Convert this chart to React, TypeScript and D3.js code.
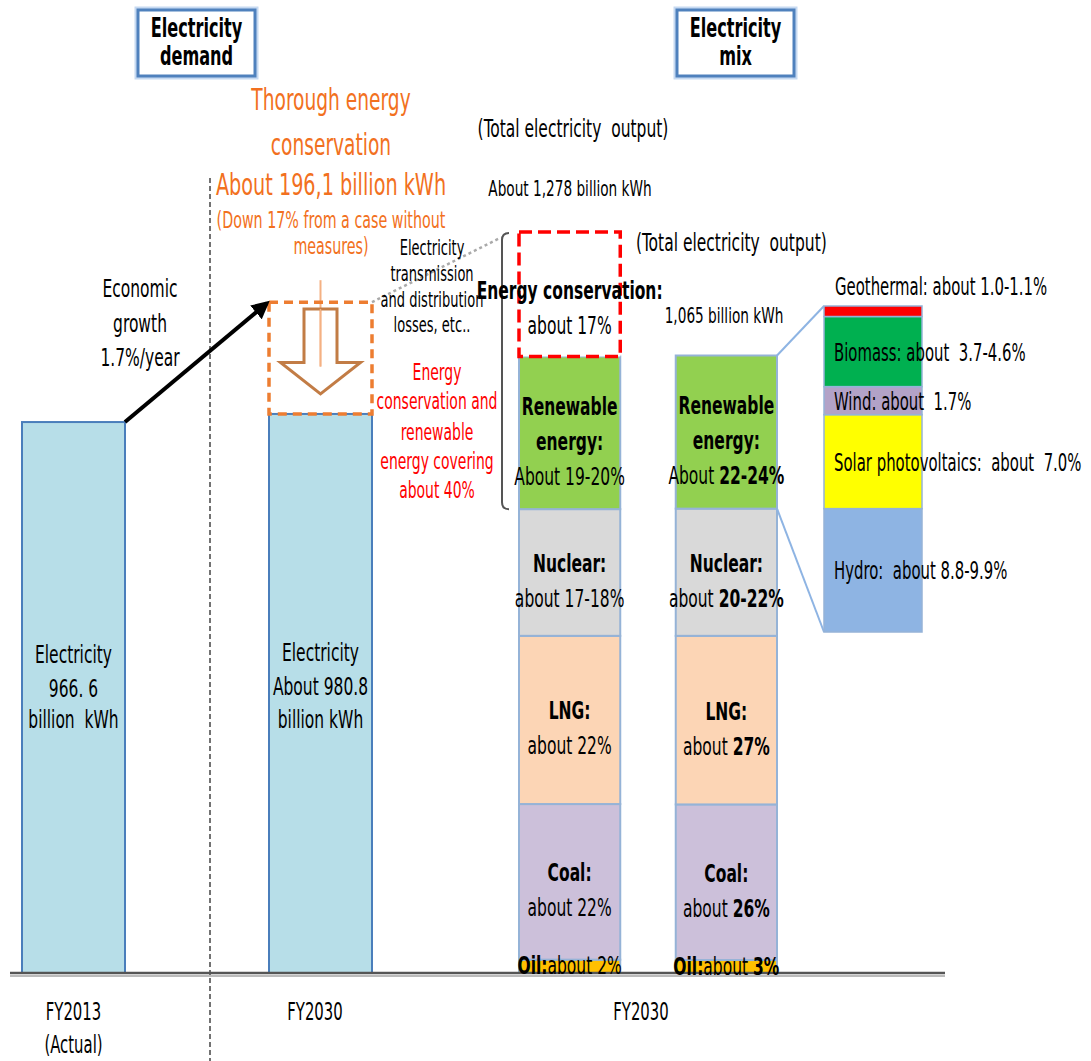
import React from "react";
import * as d3 from "d3";

const W = 1091;
const H = 1061;
const FONT = "'Liberation Sans Narrow', 'DejaVu Sans Condensed', 'Arial Narrow', sans-serif";
const SX = 0.69;

// ---------- data ----------
const demandCategories = ["FY2013", "FY2030"];
const demandValues = [966.6, 980.8]; // billion kWh
const conservationSaving = 196.1; // billion kWh
const totalOutputs = [1278, 1065]; // billion kWh
const mixCases = ["withConservation", "mix"];
const mixSources = ["Oil", "Coal", "LNG", "Nuclear", "Renewable energy", "Energy conservation"];
const mixShareA = [1.8, 21.0, 22.7, 17.1, 20.6, 16.8]; // % of 1,278
const mixShareB = [2.1, 25.2, 27.3, 20.6, 24.8]; // % of 1,065
const sourceColors = ["#ffc000", "#ccc0da", "#fcd5b5", "#d9d9d9", "#92d050", "#ffffff"];
const renewableSources = ["Hydro", "Solar photovoltaics", "Wind", "Biomass", "Geothermal"];
const renewableShares = [8.8, 6.7, 2.0, 5.0, 0.75]; // % of 1,065
const renewableColors = ["#8eb4e3", "#ffff00", "#b3a2c7", "#00b050", "#ff0000"];
const renewableLabels = [
  "Hydro:  about 8.8-9.9%",
  "Solar photovoltaics:  about  7.0%",
  "Wind: about  1.7%",
  "Biomass: about  3.7-4.6%",
  "Geothermal: about 1.0-1.1%",
];
type Run = [string, boolean];
const mixLabelsA: Run[][][] = [
  [[["Oil:", true], ["about 2%", false]]],
  [[["Coal:", true]], [["about 22%", false]]],
  [[["LNG:", true]], [["about 22%", false]]],
  [[["Nuclear:", true]], [["about 17-18%", false]]],
  [[["Renewable", true]], [["energy:", true]], [["About 19-20%", false]]],
  [[["Energy conservation:", true]], [["about 17%", false]]],
];
const mixLabelsB: Run[][][] = [
  [[["Oil:", true], ["about ", false], ["3%", true]]],
  [[["Coal:", true]], [["about ", false], ["26%", true]]],
  [[["LNG:", true]], [["about ", false], ["27%", true]]],
  [[["Nuclear:", true]], [["about ", false], ["20-22%", true]]],
  [[["Renewable", true]], [["energy:", true]], [["About ", false], ["22-24%", true]]],
];

// ---------- helpers ----------
function T(props: {
  x: number; y: number; size?: number; anchor?: string; fill?: string; weight?: any; children: any;
}) {
  const { x, y, size = 23, anchor = "middle", fill = "#000", weight = "normal", children } = props;
  return (
    <text
      transform={`translate(${x},${y}) scale(${SX},1)`}
      fontSize={size}
      textAnchor={anchor as any}
      fill={fill}
      fontWeight={weight}
      fontFamily={FONT}
      style={{ whiteSpace: "pre" }}
    >
      {children}
    </text>
  );
}

function Line({ runs, x, y, size = 24 }: { runs: Run[]; x: number; y: number; size?: number }) {
  return (
    <T x={x} y={y} size={size}>
      {runs.map((r, i) => (
        <tspan key={i} fontWeight={r[1] ? "bold" : "normal"}>{r[0]}</tspan>
      ))}
    </T>
  );
}

function HeaderBox({ x, y, w, h, lines }: { x: number; y: number; w: number; h: number; lines: string[] }) {
  return (
    <g>
      <rect x={x} y={y} width={w} height={h} fill="#fff" stroke="#c6d9f1" strokeWidth={7} />
      <rect x={x} y={y} width={w} height={h} fill="#fff" stroke="#4f81bd" strokeWidth={3} />
      {lines.map((l, i) => (
        <T key={i} x={x + w / 2} y={y + 27 + i * 28} size={26} weight="bold">{l}</T>
      ))}
    </g>
  );
}

export default function App() {
  const baseY = 973;

  // scales
  const xDemand = d3.scaleBand<string>().domain(demandCategories).range([22, 372]).paddingInner(0.583);
  const yDemand = d3.scaleLinear().domain([0, d3.mean(demandValues) as number]).range([baseY, 418]);

  const xMix = d3.scaleBand<string>().domain(mixCases).range([519, 777]).paddingInner(0.354);
  const yMix = d3.scaleLinear().domain([0, totalOutputs[0]]).range([baseY, 232]);

  const xR0 = 824;
  const xR1 = 922;
  const rTotal = d3.sum(renewableShares);
  const yR = d3.scaleLinear().domain([0, rTotal]).range([632, 306]);

  // stacks in billion kWh
  const stackOf = (shares: number[], total: number) => {
    const vals = shares.map((s) => (s / 100) * total);
    const ends = d3.cumsum(vals);
    return vals.map((v, i) => ({ y0: ends[i] - v, y1: ends[i] }));
  };
  const segA = stackOf(mixShareA, totalOutputs[0]);
  const segB = stackOf(mixShareB, totalOutputs[1]);

  const rEnds = d3.cumsum(renewableShares);
  const rSegs = renewableShares.map((v, i) => ({ y0: rEnds[i] - v, y1: rEnds[i] }));

  // demand bars
  const bw = xDemand.bandwidth();
  const bar1x = xDemand(demandCategories[0]) as number;
  const bar2x = xDemand(demandCategories[1]) as number;
  const boxTop = yDemand(demandValues[1] + conservationSaving);
  const boxBot = yDemand(demandValues[1]);
  const boxH = boxBot - boxTop;
  const boxCx = bar2x + bw / 2;

  const mbw = xMix.bandwidth();
  const xA = xMix(mixCases[0]) as number;
  const xB = xMix(mixCases[1]) as number;

  const renderRects = (segs: { y0: number; y1: number }[], x: number) =>
    segs.map((s, i) => {
      const top = yMix(s.y1);
      const bot = yMix(s.y0);
      const isCons = mixSources[i] === "Energy conservation";
      return isCons ? (
        <rect key={i} x={x} y={top} width={mbw} height={bot - top} fill="#fff" stroke="#ff0000"
          strokeWidth={3.5} strokeDasharray="13,6" />
      ) : (
        <rect key={i} x={x} y={top} width={mbw} height={bot - top} fill={sourceColors[i]}
          stroke="#95b3d7" strokeWidth={2} />
      );
    });

  const renderLabels = (segs: { y0: number; y1: number }[], x: number, labels: Run[][][]) =>
    segs.map((s, i) => {
      const top = yMix(s.y1);
      const bot = yMix(s.y0);
      const mid = (top + bot) / 2;
      const lines = labels[i];
      const n = lines.length;
      const isCons = mixSources[i] === "Energy conservation";
      return (
        <g key={i}>
          {lines.map((runs, j) => {
            const y = n === 1 ? mid + 8 : mid + 35 * (j - (n - 1) / 2) + 17 + (isCons ? 5 : 0);
            return <Line key={j} runs={runs} x={x + mbw / 2} y={y} size={25} />;
          })}
        </g>
      );
    });

  // down arrow in the orange box
  const aTop = boxTop + 0.06 * boxH;
  const aHead = boxTop + 0.54 * boxH;
  const aTip = boxTop + 0.82 * boxH;
  const arrowPath = `M${boxCx - 16.5},${aTop} H${boxCx + 16.5} V${aHead} H${boxCx + 40} L${boxCx},${aTip} L${boxCx - 40},${aHead} H${boxCx - 16.5} Z`;

  const renTopB = yMix(segB[4].y1);
  const renBotB = yMix(segB[4].y0);

  return (
    <svg width={W} height={H} style={{ position: "absolute", left: 0, top: 0, background: "#fff" }}>
      <defs>
        <marker id="ah" viewBox="0 0 10 10" refX="8" refY="5" markerWidth="4.5" markerHeight="4.5" orient="auto">
          <path d="M0,0 L10,5 L0,10 Z" fill="#000" />
        </marker>
      </defs>
      <rect x={0} y={0} width={W} height={H} fill="#fff" />

      {/* headers */}
      <HeaderBox x={138} y={10} w={117} h={66} lines={["Electricity", "demand"]} />
      <HeaderBox x={677} y={10} w={117} h={66} lines={["Electricity", "mix"]} />

      {/* divider */}
      <line x1={210} x2={210} y1={178} y2={H} stroke="#444" strokeWidth={1.5} strokeDasharray="5,3" />

      {/* demand bars */}
      {demandValues.map((v, i) => (
        <rect key={i} x={xDemand(demandCategories[i]) as number} y={yDemand(v)} width={bw}
          height={baseY - yDemand(v)} fill="#b7dee8" stroke="#4a7ebb" strokeWidth={2} />
      ))}
      <T x={bar1x + bw / 2} y={663} size={25}>Electricity</T>
      <T x={bar1x + bw / 2} y={697} size={25}>966. 6</T>
      <T x={bar1x + bw / 2} y={728} size={25}>billion  kWh</T>
      <T x={bar2x + bw / 2} y={661} size={25}>Electricity</T>
      <T x={bar2x + bw / 2} y={695} size={25}>About 980.8</T>
      <T x={bar2x + bw / 2} y={728} size={25}>billion kWh</T>

      {/* orange conservation box */}
      <line x1={boxCx} x2={boxCx} y1={boxTop - 22} y2={aHead + 4} stroke="#f4b183" strokeWidth={2} />
      <path d={arrowPath} fill="none" stroke="#c27c45" strokeWidth={3} strokeLinejoin="miter" />
      <line x1={boxCx} x2={boxCx} y1={aTop} y2={aHead + 4} stroke="#f4b183" strokeWidth={1.5} />
      <rect x={bar2x} y={boxTop} width={bw} height={boxH} fill="none" stroke="#ed7d31"
        strokeWidth={3.5} strokeDasharray="9,6" />

      {/* economic growth arrow */}
      <line x1={bar1x + bw} y1={yDemand(demandValues[0])} x2={bar2x - 2} y2={boxTop + 1}
        stroke="#000" strokeWidth={4} markerEnd="url(#ah)" />
      <T x={140} y={297} size={25}>Economic</T>
      <T x={140} y={332} size={25}>growth</T>
      <T x={140} y={366} size={25}>1.7%/year</T>

      {/* orange title */}
      <T x={331} y={110} size={30} fill="#f27020">Thorough energy</T>
      <T x={331} y={155} size={30} fill="#f27020">conservation</T>
      <T x={331} y={195} size={31} fill="#f27020">About 196,1 billion kWh</T>
      <T x={331} y={228} size={23} fill="#f27020">(Down 17% from a case without</T>
      <T x={331} y={254} size={23} fill="#f27020">measures)</T>

      {/* losses text & dotted link */}
      <line x1={bar2x + bw} y1={boxTop} x2={500} y2={238} stroke="#aaa" strokeWidth={2.5} strokeDasharray="3,3" />
      <T x={432} y={255} size={21}>Electricity</T>
      <T x={432} y={281} size={21}>transmission</T>
      <T x={432} y={307} size={21}>and distribution</T>
      <T x={432} y={332} size={21}>losses, etc..</T>

      <T x={437} y={380} size={22.5} fill="#ff0000">Energy</T>
      <T x={437} y={409} size={22.5} fill="#ff0000">conservation and</T>
      <T x={437} y={440} size={22.5} fill="#ff0000">renewable</T>
      <T x={437} y={469} size={22.5} fill="#ff0000">energy covering</T>
      <T x={437} y={498} size={22.5} fill="#ff0000">about 40%</T>

      {/* bracket */}
      <path d={`M509,${yMix(segA[5].y1) + 1} Q502,${yMix(segA[5].y1) + 1} 502,${yMix(segA[5].y1) + 8} V${yMix(segA[4].y0) - 7} Q502,${yMix(segA[4].y0)} 509,${yMix(segA[4].y0)}`}
        fill="none" stroke="#555" strokeWidth={2} />

      {/* totals */}
      <T x={573} y={137} size={25}>(Total electricity  output)</T>
      <T x={570} y={196} size={22}>About 1,278 billion kWh</T>
      <T x={636} y={251} size={25} anchor="start">(Total electricity  output)</T>
      <T x={724} y={323} size={22}>1,065 billion kWh</T>

      {/* stacks */}
      {renderRects(segA, xA)}
      {renderRects(segB, xB)}

      {/* axis */}
      <line x1={10} x2={945} y1={baseY + 3} y2={baseY + 3} stroke="#bbb" strokeWidth={2} />
      <line x1={10} x2={945} y1={baseY} y2={baseY} stroke="#555" strokeWidth={2.5} />

      {renderLabels(segA, xA, mixLabelsA)}
      {renderLabels(segB, xB, mixLabelsB)}

      {/* connectors */}
      <line x1={xB + mbw} y1={renTopB} x2={xR0} y2={yR(rTotal)} stroke="#8eb4e3" strokeWidth={2} />
      <line x1={xB + mbw} y1={renBotB} x2={xR0} y2={yR(0)} stroke="#8eb4e3" strokeWidth={2} />

      {/* renewable breakdown */}
      {rSegs.map((s, i) => (
        <rect key={i} x={xR0} y={yR(s.y1)} width={xR1 - xR0} height={yR(s.y0) - yR(s.y1)}
          fill={renewableColors[i]} stroke="#95b3d7" strokeWidth={1.5} />
      ))}
      {rSegs.map((s, i) => {
        const isLast = i === rSegs.length - 1;
        const y = isLast ? yR(s.y1) - 11 : (yR(s.y0) + yR(s.y1)) / 2 + 9;
        return (
          <T key={i} x={isLast ? 835 : 834} y={y} size={24} anchor="start">{renewableLabels[i]}</T>
        );
      })}

      {/* category labels */}
      <T x={bar1x + bw / 2} y={1020} size={24}>FY2013</T>
      <T x={bar1x + bw / 2} y={1053} size={24}>(Actual)</T>
      <T x={315} y={1020} size={24}>FY2030</T>
      <T x={641} y={1020} size={24}>FY2030</T>
    </svg>
  );
}
